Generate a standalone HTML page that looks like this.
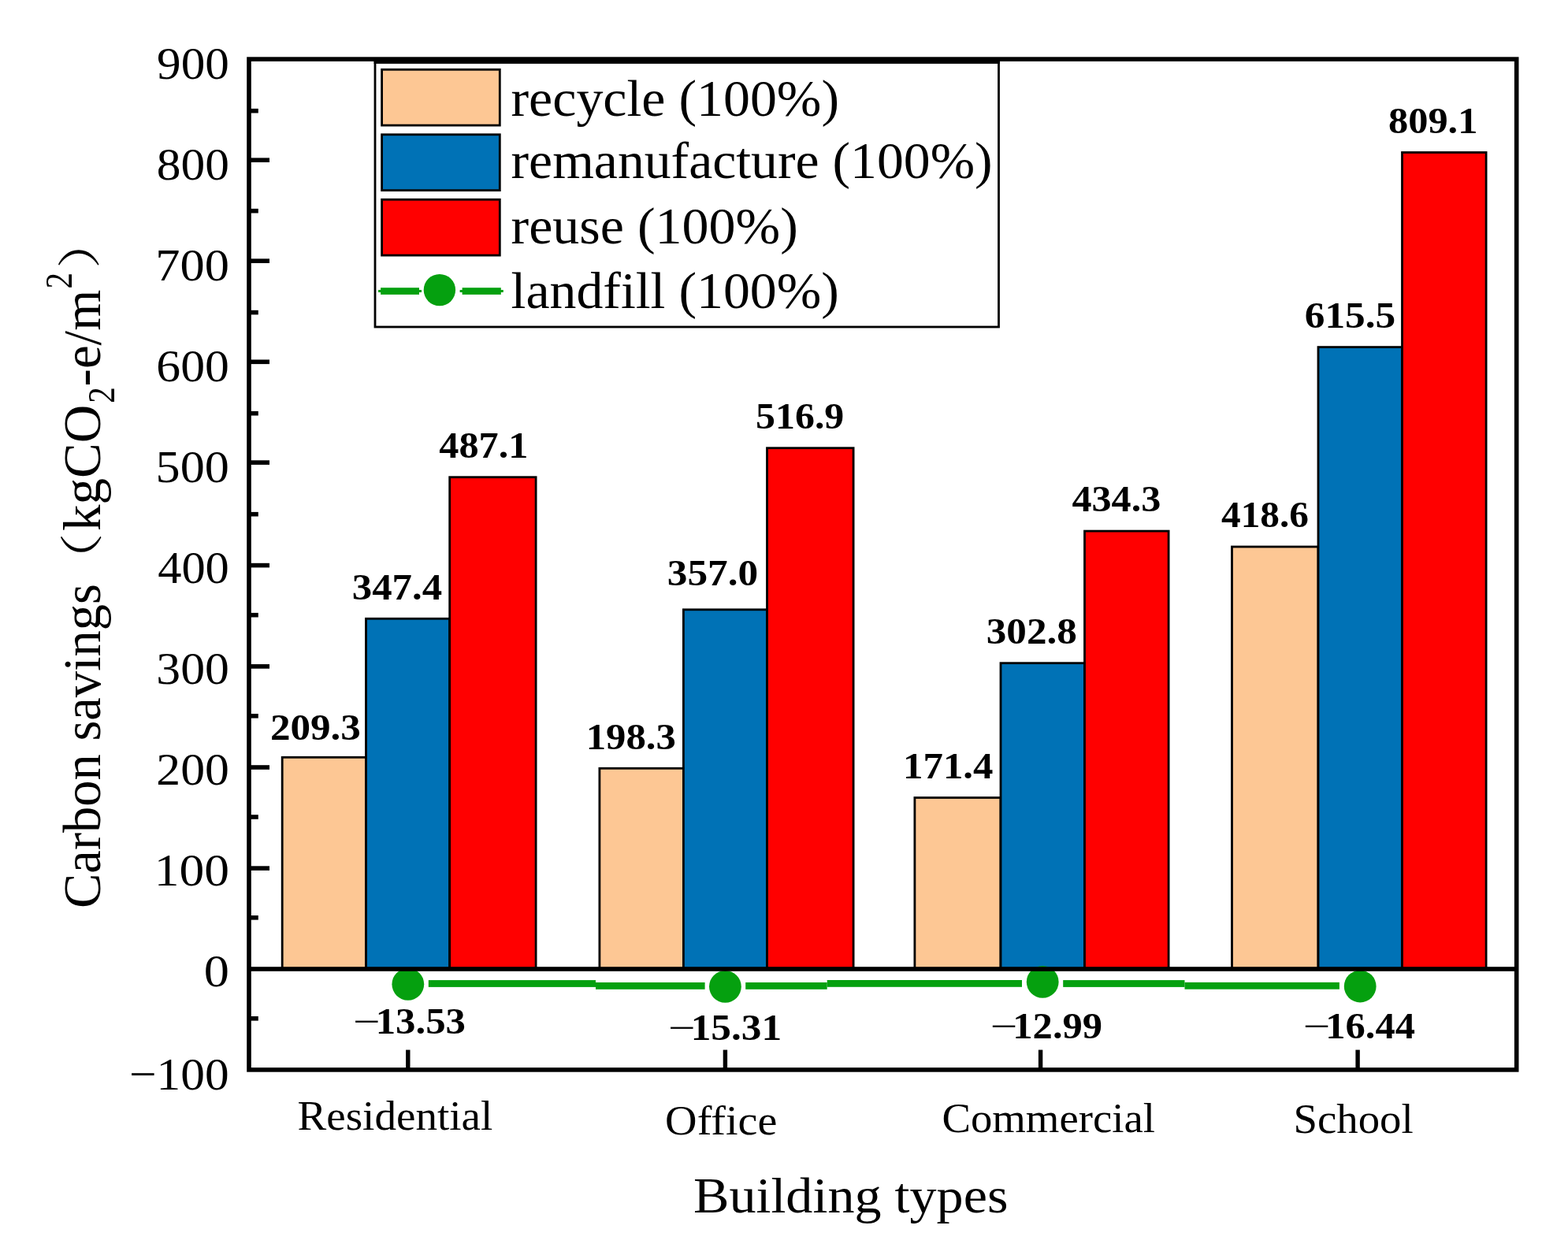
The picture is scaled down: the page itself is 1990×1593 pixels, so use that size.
<!DOCTYPE html>
<html lang="en">
<head>
<meta charset="utf-8">
<title>Carbon savings by building type</title>
<style>
html,body{margin:0;padding:0;background:#fff;}
body{width:1990px;height:1593px;overflow:hidden;}
svg{display:block;}
text{fill:#000;stroke:none;}
</style>
</head>
<body>
<svg width="1990" height="1593" viewBox="0 0 1990 1593">
<rect x="0" y="0" width="1990" height="1593" fill="#fff"/>
<rect x="476" y="79.0" width="791.50" height="336.00" fill="#fff" stroke="#000" stroke-width="2.8"/>
<rect x="474.6" y="77" width="794.3" height="3.8" fill="#000"/>
<rect x="484.6" y="88.30" width="149.70" height="70.8" fill="#FDC794" stroke="#000" stroke-width="2.8"/>
<rect x="484.6" y="170.80" width="149.70" height="70.8" fill="#0072B6" stroke="#000" stroke-width="2.8"/>
<rect x="484.6" y="253.30" width="149.70" height="70.8" fill="#FF0000" stroke="#000" stroke-width="2.8"/>
<rect x="483.1" y="365.2" width="48.90" height="8.7" fill="#05A00F"/>
<rect x="480.1" y="368" width="54.90" height="3" fill="#05A00F"/>
<rect x="586.6" y="365.2" width="49.20" height="8.7" fill="#05A00F"/>
<rect x="583.6" y="368" width="55.20" height="3" fill="#05A00F"/>
<circle cx="557.9" cy="368.1" r="20.2" fill="#05A00F"/>
<rect x="358.20" y="961.30" width="106.30" height="268.70" fill="#FDC794" stroke="#000" stroke-width="2.8"/>
<rect x="464.50" y="785.30" width="106.20" height="444.70" fill="#0072B6" stroke="#000" stroke-width="2.8"/>
<rect x="570.70" y="605.70" width="109.40" height="624.30" fill="#FF0000" stroke="#000" stroke-width="2.8"/>
<rect x="760.90" y="975.30" width="106.50" height="254.70" fill="#FDC794" stroke="#000" stroke-width="2.8"/>
<rect x="867.40" y="773.80" width="106.10" height="456.20" fill="#0072B6" stroke="#000" stroke-width="2.8"/>
<rect x="973.50" y="568.70" width="109.60" height="661.30" fill="#FF0000" stroke="#000" stroke-width="2.8"/>
<rect x="1160.90" y="1012.50" width="109.10" height="217.50" fill="#FDC794" stroke="#000" stroke-width="2.8"/>
<rect x="1270.00" y="841.70" width="106.50" height="388.30" fill="#0072B6" stroke="#000" stroke-width="2.8"/>
<rect x="1376.50" y="674.10" width="106.60" height="555.90" fill="#FF0000" stroke="#000" stroke-width="2.8"/>
<rect x="1563.50" y="694.00" width="109.50" height="536.00" fill="#FDC794" stroke="#000" stroke-width="2.8"/>
<rect x="1673.00" y="440.60" width="106.50" height="789.40" fill="#0072B6" stroke="#000" stroke-width="2.8"/>
<rect x="1779.50" y="193.50" width="106.60" height="1036.50" fill="#FF0000" stroke="#000" stroke-width="2.8"/>
<rect x="543.80" y="1244.10" width="212.20" height="8.8" fill="#05A00F"/>
<rect x="756.00" y="1247.00" width="138.60" height="8.8" fill="#05A00F"/>
<rect x="946.20" y="1247.00" width="103.50" height="8.8" fill="#05A00F"/>
<rect x="1049.70" y="1244.00" width="247.30" height="8.8" fill="#05A00F"/>
<rect x="1349.20" y="1244.10" width="154.30" height="8.8" fill="#05A00F"/>
<rect x="1503.50" y="1246.90" width="196.40" height="8.8" fill="#05A00F"/>
<circle cx="517.8" cy="1249.3" r="20.4" fill="#05A00F"/>
<circle cx="920.4" cy="1252.3" r="20.4" fill="#05A00F"/>
<circle cx="1323.2" cy="1246.4" r="20.4" fill="#05A00F"/>
<circle cx="1726.2" cy="1252.0" r="20.4" fill="#05A00F"/>
<rect x="316" y="1227.20" width="1609" height="5.6" fill="#000"/>
<rect x="316" y="137.90" width="11.80" height="5.6" fill="#000"/>
<rect x="316" y="200.40" width="26.00" height="5.6" fill="#000"/>
<rect x="316" y="264.90" width="11.80" height="5.6" fill="#000"/>
<rect x="316" y="328.40" width="26.00" height="5.6" fill="#000"/>
<rect x="316" y="393.80" width="11.80" height="5.6" fill="#000"/>
<rect x="316" y="456.50" width="26.00" height="5.6" fill="#000"/>
<rect x="316" y="521.90" width="11.80" height="5.6" fill="#000"/>
<rect x="316" y="584.30" width="26.00" height="5.6" fill="#000"/>
<rect x="316" y="649.90" width="11.80" height="5.6" fill="#000"/>
<rect x="316" y="714.80" width="26.00" height="5.6" fill="#000"/>
<rect x="316" y="777.90" width="11.80" height="5.6" fill="#000"/>
<rect x="316" y="843.10" width="26.00" height="5.6" fill="#000"/>
<rect x="316" y="906.00" width="11.80" height="5.6" fill="#000"/>
<rect x="316" y="971.20" width="26.00" height="5.6" fill="#000"/>
<rect x="316" y="1034.20" width="11.80" height="5.6" fill="#000"/>
<rect x="316" y="1099.30" width="26.00" height="5.6" fill="#000"/>
<rect x="316" y="1162.00" width="11.80" height="5.6" fill="#000"/>
<rect x="316" y="1290.00" width="11.80" height="5.6" fill="#000"/>
<rect x="515.10" y="1332.6" width="5.4" height="25" fill="#000"/>
<rect x="917.70" y="1332.6" width="5.4" height="25" fill="#000"/>
<rect x="1317.90" y="1332.6" width="5.4" height="25" fill="#000"/>
<rect x="1720.40" y="1332.6" width="5.4" height="25" fill="#000"/>
<rect x="316" y="75.1" width="1608.70" height="1282.80" fill="none" stroke="#000" stroke-width="5.6"/>
<text x="199.09" y="99.90" font-size="58" font-weight="normal" font-family="'Liberation Serif', serif" textLength="91.77" lengthAdjust="spacingAndGlyphs">900</text>
<text x="198.73" y="228.10" font-size="58" font-weight="normal" font-family="'Liberation Serif', serif" textLength="92.14" lengthAdjust="spacingAndGlyphs">800</text>
<text x="197.25" y="356.00" font-size="58" font-weight="normal" font-family="'Liberation Serif', serif" textLength="93.66" lengthAdjust="spacingAndGlyphs">700</text>
<text x="198.36" y="484.00" font-size="58" font-weight="normal" font-family="'Liberation Serif', serif" textLength="92.52" lengthAdjust="spacingAndGlyphs">600</text>
<text x="197.63" y="611.80" font-size="58" font-weight="normal" font-family="'Liberation Serif', serif" textLength="93.28" lengthAdjust="spacingAndGlyphs">500</text>
<text x="200.16" y="739.90" font-size="58" font-weight="normal" font-family="'Liberation Serif', serif" textLength="90.67" lengthAdjust="spacingAndGlyphs">400</text>
<text x="198.36" y="867.80" font-size="58" font-weight="normal" font-family="'Liberation Serif', serif" textLength="92.52" lengthAdjust="spacingAndGlyphs">300</text>
<text x="198.36" y="996.10" font-size="58" font-weight="normal" font-family="'Liberation Serif', serif" textLength="92.52" lengthAdjust="spacingAndGlyphs">200</text>
<text x="195.73" y="1123.90" font-size="58" font-weight="normal" font-family="'Liberation Serif', serif" textLength="95.23" lengthAdjust="spacingAndGlyphs">100</text>
<text x="258.81" y="1251.90" font-size="58" font-weight="normal" font-family="'Liberation Serif', serif" textLength="32.18" lengthAdjust="spacingAndGlyphs">0</text>
<text x="163.93" y="1382.80" font-size="58" font-weight="normal" font-family="'Liberation Serif', serif" textLength="126.64" lengthAdjust="spacingAndGlyphs">−100</text>
<text x="648.53" y="146.90" font-size="66.3" font-weight="normal" font-family="'Liberation Serif', serif" textLength="416.52" lengthAdjust="spacingAndGlyphs">recycle (100%)</text>
<text x="648.54" y="226.00" font-size="66.3" font-weight="normal" font-family="'Liberation Serif', serif" textLength="611.09" lengthAdjust="spacingAndGlyphs">remanufacture (100%)</text>
<text x="648.53" y="308.50" font-size="66.3" font-weight="normal" font-family="'Liberation Serif', serif" textLength="364.39" lengthAdjust="spacingAndGlyphs">reuse (100%)</text>
<text x="648.54" y="391.00" font-size="66.3" font-weight="normal" font-family="'Liberation Serif', serif" textLength="416.31" lengthAdjust="spacingAndGlyphs">landfill (100%)</text>
<text x="342.91" y="939.20" font-size="46.6" font-weight="bold" font-family="'Liberation Serif', serif" textLength="114.95" lengthAdjust="spacingAndGlyphs">209.3</text>
<text x="446.78" y="760.50" font-size="46.6" font-weight="bold" font-family="'Liberation Serif', serif" textLength="114.34" lengthAdjust="spacingAndGlyphs">347.4</text>
<text x="557.38" y="581.20" font-size="46.6" font-weight="bold" font-family="'Liberation Serif', serif" textLength="113.03" lengthAdjust="spacingAndGlyphs">487.1</text>
<text x="743.71" y="950.70" font-size="46.6" font-weight="bold" font-family="'Liberation Serif', serif" textLength="114.14" lengthAdjust="spacingAndGlyphs">198.3</text>
<text x="846.76" y="743.00" font-size="46.6" font-weight="bold" font-family="'Liberation Serif', serif" textLength="115.47" lengthAdjust="spacingAndGlyphs">357.0</text>
<text x="959.06" y="544.20" font-size="46.6" font-weight="bold" font-family="'Liberation Serif', serif" textLength="112.26" lengthAdjust="spacingAndGlyphs">516.9</text>
<text x="1146.10" y="988.00" font-size="46.6" font-weight="bold" font-family="'Liberation Serif', serif" textLength="114.43" lengthAdjust="spacingAndGlyphs">171.4</text>
<text x="1251.77" y="817.10" font-size="46.6" font-weight="bold" font-family="'Liberation Serif', serif" textLength="115.09" lengthAdjust="spacingAndGlyphs">302.8</text>
<text x="1360.48" y="649.30" font-size="46.6" font-weight="bold" font-family="'Liberation Serif', serif" textLength="112.85" lengthAdjust="spacingAndGlyphs">434.3</text>
<text x="1550.00" y="669.10" font-size="46.6" font-weight="bold" font-family="'Liberation Serif', serif" textLength="110.85" lengthAdjust="spacingAndGlyphs">418.6</text>
<text x="1655.76" y="416.00" font-size="46.6" font-weight="bold" font-family="'Liberation Serif', serif" textLength="115.47" lengthAdjust="spacingAndGlyphs">615.5</text>
<text x="1762.00" y="168.60" font-size="46.6" font-weight="bold" font-family="'Liberation Serif', serif" textLength="113.42" lengthAdjust="spacingAndGlyphs">809.1</text>
<text x="377.43" y="1434.40" font-size="52" font-weight="normal" font-family="'Liberation Serif', serif" textLength="247.98" lengthAdjust="spacingAndGlyphs">Residential</text>
<text x="844.14" y="1439.80" font-size="52" font-weight="normal" font-family="'Liberation Serif', serif" textLength="142.26" lengthAdjust="spacingAndGlyphs">Office</text>
<text x="1195.40" y="1437.20" font-size="52" font-weight="normal" font-family="'Liberation Serif', serif" textLength="270.49" lengthAdjust="spacingAndGlyphs">Commercial</text>
<text x="1641.59" y="1437.60" font-size="52" font-weight="normal" font-family="'Liberation Serif', serif" textLength="152.08" lengthAdjust="spacingAndGlyphs">School</text>
<text x="879.97" y="1538.90" font-size="64" font-weight="normal" font-family="'Liberation Serif', serif" textLength="399.45" lengthAdjust="spacingAndGlyphs">Building types</text>
<text font-size="46.6" font-family="'Liberation Serif', serif"><tspan x="448.13" y="1312.00" font-weight="normal" textLength="34.57" lengthAdjust="spacingAndGlyphs">−</tspan><tspan x="476.70" y="1312.00" font-weight="bold" textLength="114.35" lengthAdjust="spacingAndGlyphs">13.53</tspan></text>
<text font-size="46.6" font-family="'Liberation Serif', serif"><tspan x="848.13" y="1320.30" font-weight="normal" textLength="34.57" lengthAdjust="spacingAndGlyphs">−</tspan><tspan x="876.66" y="1320.30" font-weight="bold" textLength="115.51" lengthAdjust="spacingAndGlyphs">15.31</tspan></text>
<text font-size="46.6" font-family="'Liberation Serif', serif"><tspan x="1256.73" y="1317.90" font-weight="normal" textLength="34.57" lengthAdjust="spacingAndGlyphs">−</tspan><tspan x="1285.32" y="1317.90" font-weight="bold" textLength="113.83" lengthAdjust="spacingAndGlyphs">12.99</tspan></text>
<text font-size="46.6" font-family="'Liberation Serif', serif"><tspan x="1653.73" y="1317.90" font-weight="normal" textLength="34.57" lengthAdjust="spacingAndGlyphs">−</tspan><tspan x="1682.32" y="1317.90" font-weight="bold" textLength="113.70" lengthAdjust="spacingAndGlyphs">16.44</tspan></text>
<text transform="translate(126.8,0) rotate(-90)" font-family="'Liberation Serif', serif"><tspan x="-1153.01" y="0.00" font-size="68" font-family="'Liberation Serif', serif" textLength="411.97" lengthAdjust="spacingAndGlyphs">Carbon savings</tspan><tspan x="-746.76" y="-3.90" font-size="55" font-family="'Noto Serif CJK SC', 'Liberation Serif', serif" textLength="70.56" lengthAdjust="spacingAndGlyphs">（</tspan><tspan x="-673.91" y="0.00" font-size="68" font-family="'Liberation Serif', serif" textLength="160.07" lengthAdjust="spacingAndGlyphs">kgCO</tspan><tspan x="-511.69" y="17.80" font-size="48.5" font-family="'Liberation Serif', serif" textLength="20.47" lengthAdjust="spacingAndGlyphs">2</tspan><tspan x="-490.43" y="0.00" font-size="68" font-family="'Liberation Serif', serif" textLength="122.76" lengthAdjust="spacingAndGlyphs">-e/m</tspan><tspan x="-366.59" y="-35.40" font-size="48.5" font-family="'Liberation Serif', serif" textLength="20.47" lengthAdjust="spacingAndGlyphs">2</tspan><tspan x="-341.12" y="-6.60" font-size="55" font-family="'Noto Serif CJK SC', 'Liberation Serif', serif" textLength="67.76" lengthAdjust="spacingAndGlyphs">）</tspan></text>
</svg>
</body>
</html>
